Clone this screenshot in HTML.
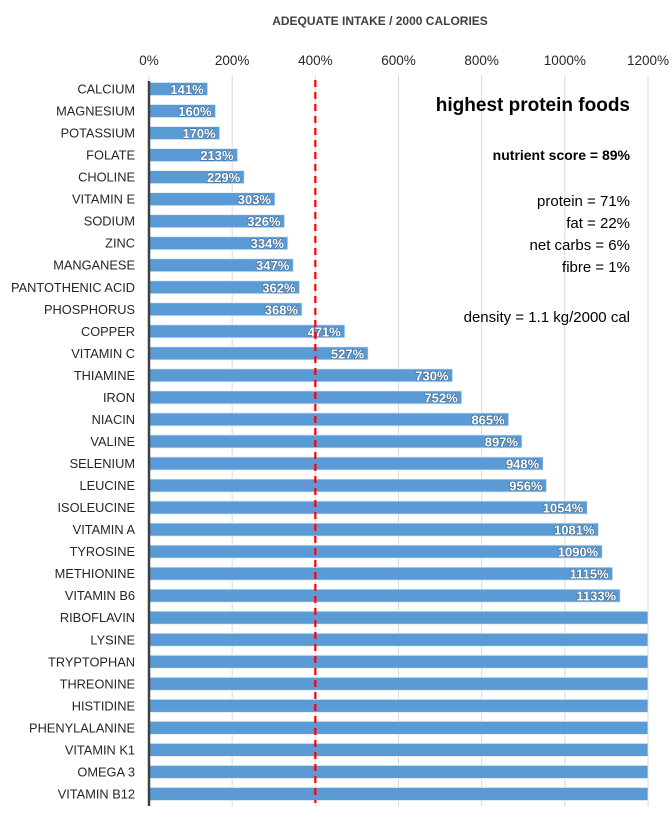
<!DOCTYPE html>
<html><head><meta charset="utf-8"><style>
body{margin:0;background:#fff;}
svg{display:block;font-family:"Liberation Sans",sans-serif;}
</style></head><body>
<svg id="chart" width="672" height="826" viewBox="0 0 672 826">
<text x="380" y="25" text-anchor="middle" font-size="12" font-weight="bold" fill="#404040">ADEQUATE INTAKE / 2000 CALORIES</text>
<g id="grid"></g><g id="bars"></g><g id="labels"></g>
<g fill="#000" text-anchor="end">
<text x="630" y="111" font-size="19" font-weight="bold">highest protein foods</text>
<text x="630" y="160" font-size="14" font-weight="bold">nutrient score = 89%</text>
<text x="630" y="206" font-size="15">protein = 71%</text>
<text x="630" y="228" font-size="15">fat = 22%</text>
<text x="630" y="250" font-size="15">net carbs = 6%</text>
<text x="630" y="272" font-size="15">fibre = 1%</text>
<text x="630" y="322" font-size="15">density = 1.1 kg/2000 cal</text>
</g>
</svg>
<script>
const categories=["CALCIUM","MAGNESIUM","POTASSIUM","FOLATE","CHOLINE","VITAMIN E","SODIUM","ZINC","MANGANESE","PANTOTHENIC ACID","PHOSPHORUS","COPPER","VITAMIN C","THIAMINE","IRON","NIACIN","VALINE","SELENIUM","LEUCINE","ISOLEUCINE","VITAMIN A","TYROSINE","METHIONINE","VITAMIN B6","RIBOFLAVIN","LYSINE","TRYPTOPHAN","THREONINE","HISTIDINE","PHENYLALANINE","VITAMIN K1","OMEGA 3","VITAMIN B12"];
const values=[141,160,170,213,229,303,326,334,347,362,368,471,527,730,752,865,897,948,956,1054,1081,1090,1115,1133,1250,1300,1350,1400,1450,1500,1600,1800,2500];
const ticks=[0,200,400,600,800,1000,1200];
const refLine=400;
const NS="http://www.w3.org/2000/svg";
const x0=149,x1=648,maxV=1200,yFirst=89,step=22.03,yStart=75,yEnd=806;
const xs=v=>x0+(Math.min(v,maxV)/maxV)*(x1-x0);
const ys=i=>yFirst+i*step;
function mk(t,a,p){const e=document.createElementNS(NS,t);for(const k in a)e.setAttribute(k,a[k]);p.appendChild(e);return e;}
const grid=document.getElementById('grid'),bars=document.getElementById('bars'),labels=document.getElementById('labels');
ticks.forEach(t=>{
 const l=mk('line',{x1:xs(t),x2:xs(t),y1:yStart,y2:yEnd,stroke:'#d9d9d9','stroke-width':1},grid);
 
 
 const tl=mk('text',{x:xs(t),y:65,'text-anchor':'middle','font-size':13.5,fill:'#262626'},grid);
 tl.textContent=t+'%';
 
 
});
categories.forEach((c,i)=>{
 const y=ys(i),v=values[i];
 const r=mk('rect',{x:x0,y:y-6.5,width:xs(v)-x0,height:13,fill:'#5b9bd5',stroke:'#deebf7','stroke-width':0.8},bars);
 
 
 const cl=mk('text',{x:135,y:y+4.5,'text-anchor':'end','font-size':12.8,fill:'#262626'},labels);
 cl.textContent=c;
 
 
 if(v<=maxV){
  const vl=mk('text',{x:xs(v)-4,y:y+5,'text-anchor':'end','font-size':13,'font-weight':'bold',fill:'#fff',stroke:'#41698f','stroke-width':1.2,'paint-order':'stroke'},labels);
  vl.textContent=v+'%';
  
  
 }
});
const ax=mk('line',{x1:x0,x2:x0,y1:yStart+6,y2:yEnd,stroke:'#404040','stroke-width':2.5},labels);


const rl=mk('line',{x1:xs(refLine),x2:xs(refLine),y1:80,y2:803,stroke:'#ff0000','stroke-width':2.2,'stroke-dasharray':'7,5'},labels);


</script>
</body></html>
